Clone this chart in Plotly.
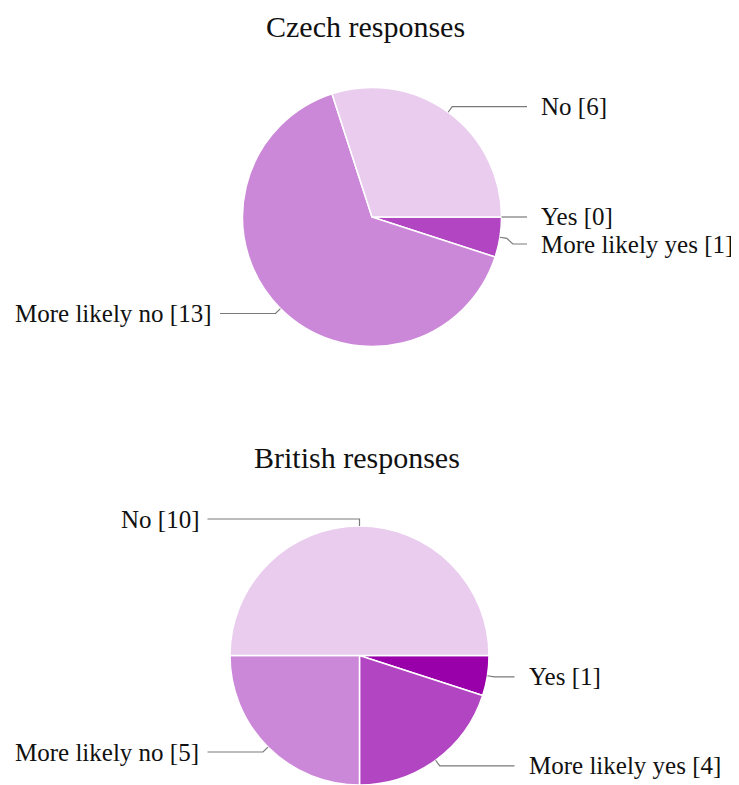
import math
import plotly.graph_objects as go

# the page body has an 8px margin, so the figure is drawn 8px smaller
# and every pixel position below is shifted by that offset
OFF = 8
W, H = 739 - OFF, 785 - OFF

labels = ["Yes", "More likely yes", "More likely no", "No"]
czech_values = [0, 1, 13, 6]
british_values = [1, 4, 5, 10]
colors = ["#9900AA", "#B145C2", "#CC88D8", "#E9CCEE"]

FONT = "Liberation Serif, Times New Roman, serif"
R = 129.5
pies = [
    dict(title="Czech responses", values=czech_values, cx=372, cy=217, tx=365, ty=27),
    dict(title="British responses", values=british_values, cx=359.5, cy=655.5, tx=357, ty=458),
]


def px(x):
    return (x - OFF) / W


def py(y):
    return 1 - (y - OFF) / H


fig = go.Figure()
shapes = []
annotations = []

for p in pies:
    cx, cy, vals = p["cx"], p["cy"], p["values"]
    fig.add_trace(go.Pie(
        labels=labels,
        values=vals,
        sort=False,
        direction="clockwise",
        rotation=90,
        marker=dict(colors=colors, line=dict(color="white", width=1.5)),
        textinfo="none",
        hovertemplate="%{label}: %{value}<extra></extra>",
        domain=dict(x=[px(cx - R), px(cx + R)], y=[max(0, py(cy + R)), min(1, py(cy - R))]),
        showlegend=False,
    ))

    annotations.append(dict(
        x=px(p["tx"]), y=py(p["ty"]), xref="paper", yref="paper",
        text=p["title"], showarrow=False, xanchor="center", yanchor="middle",
        font=dict(family=FONT, size=30, color="#111"),
    ))

    # leader lines + labels, angles from the data
    total = sum(vals)
    start = 0.0
    items = []
    for lab, v in zip(labels, vals):
        sweep = 360.0 * v / total
        mid = math.radians(start - sweep / 2)
        start -= sweep
        dx, dy = math.cos(mid), -math.sin(mid)
        edge = (cx + R * dx, cy + R * dy)
        elbow = (cx + (R + 7) * dx, cy + (R + 7) * dy)
        side = "right" if dx > 1e-9 else "left"
        items.append(dict(text=f"{lab} [{v}]", edge=edge, elbow=elbow, side=side, ly=elbow[1]))

    for side in ("right", "left"):
        group = sorted([it for it in items if it["side"] == side], key=lambda it: it["ly"])
        prev = None
        for it in group:
            if prev is not None and it["ly"] - prev < 27:
                it["ly"] = prev + 27
            prev = it["ly"]

    for it in items:
        end_x = cx + 155 if it["side"] == "right" else cx - 152
        (ex, ey), (bx, by) = it["edge"], it["elbow"]
        path = (f"M {px(ex)} {py(ey)} L {px(bx)} {py(by)} "
                f"L {px(bx + (6 if it['side'] == 'right' else -6))} {py(it['ly'])} "
                f"L {px(end_x)} {py(it['ly'])}")
        shapes.append(dict(type="path", xref="paper", yref="paper", path=path,
                           line=dict(color="#7a7a7a", width=1.2)))
        if it["side"] == "right":
            ax, anchor = end_x + 12, "left"
        else:
            ax, anchor = end_x - 7, "right"
        annotations.append(dict(
            x=px(ax), y=py(it["ly"]), xref="paper", yref="paper",
            text=it["text"], showarrow=False, xanchor=anchor, yanchor="middle",
            font=dict(family=FONT, size=25, color="#111"),
        ))

fig.update_layout(
    width=W, height=H,
    margin=dict(l=0, r=0, t=0, b=0),
    paper_bgcolor="white",
    plot_bgcolor="white",
    shapes=shapes,
    annotations=annotations,
)

fig.write_html("out.html")
